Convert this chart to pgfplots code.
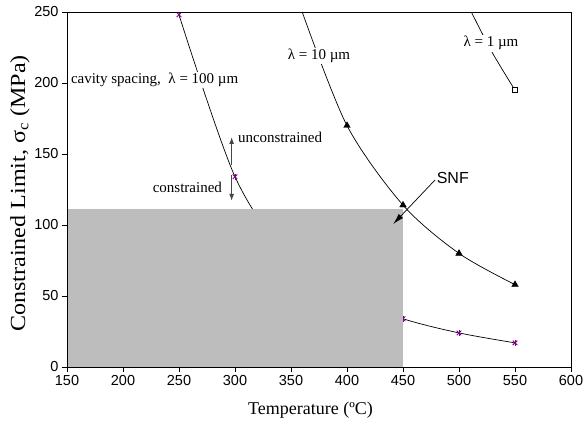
\documentclass[border=0pt]{standalone}
\usepackage{fontspec}
\setmainfont{Liberation Serif}
\newfontfamily\arialf{Liberation Sans}
\usepackage{graphicx}
\usepackage{pgfplots}
\pgfplotsset{compat=1.18}
\usetikzlibrary{arrows.meta,calc}
\definecolor{boxgray}{RGB}{189,189,189}
\definecolor{mpurple}{RGB}{128,0,128}
\begin{document}
\begin{tikzpicture}
\begin{axis}[
  width=504pt, height=355pt, scale only axis,
  xmin=150, xmax=600, ymin=0, ymax=250,
  xtick={150,200,...,600}, ytick={0,50,...,250},
  tick pos=left, tick align=outside, major tick length=5pt,
  tick style={black, line width=0.8pt},
  axis line style={black, line width=0.9pt},
  axis on top=true,
  /pgf/number format/assume math mode=true,
  ticklabel style={font=\arialf\fontsize{14.5}{16}\selectfont},
  xlabel={Temperature (ºC)},
  xlabel style={font=\fontsize{18}{20}\selectfont, at={(axis description cs:0.483,-0.121)}, anchor=center},
  ylabel={\scalebox{1.12}[1]{Constrained Limit, σ\textsubscript{c} (MPa)}},
  ylabel style={font=\fontsize{21.5}{24}\selectfont, at={(axis description cs:-0.0933,0.489)}, anchor=center},
  clip mode=individual,
]
% lambda = 100 um
\addplot[black, line width=0.7pt, smooth, no marks] coordinates {(250,248)(300,134)(350,75)(400,50)(450,34)(500,24)(550,17)};
\addplot[only marks, mpurple, mark=x, mark size=3.2pt, mark options={line width=0.9pt}] coordinates {(250,248)(300,134)(450,34)(500,24)(550,17)};
\addplot[only marks, mpurple, mark=|, mark size=3.2pt, mark options={line width=0.9pt}] coordinates {(250,248)(300,134)(450,34)(500,24)(550,17)};
% SNF region
\addplot[draw=none, fill=boxgray] coordinates {(150,111)(450,111)} \closedcycle;
% lambda = 10 um
\addplot[black, line width=0.7pt, smooth, no marks] coordinates {(360,250)(400,170)(450,114)(500,80)(550,58)};
\addplot[only marks, black, mark=triangle*, mark size=3.8pt] coordinates {(400,170)(450,114)(500,80)(550,58)};
% lambda = 1 um
\addplot[black, line width=0.7pt, smooth, no marks] coordinates {(511,250)(530,221)(550,195)};
\addplot[only marks, black, mark=square*, mark size=2.5pt, mark options={fill=white, line width=0.6pt}] coordinates {(550,195)};

\node[fill=white, inner sep=1pt, anchor=west, font=\fontsize{15}{17}\selectfont] at (axis cs:152.5,202) {cavity spacing,\ \ λ = 100 µm};
\node[fill=white, inner sep=1.5pt, font=\fontsize{15}{17}\selectfont] at (axis cs:375,219) {λ = 10 µm};
\node[fill=white, inner sep=1.5pt, font=\fontsize{15}{17}\selectfont] at (axis cs:528.5,228) {λ = 1 µm};
\node[anchor=west, inner sep=0pt, font=\fontsize{15}{17}\selectfont] at (axis cs:302.5,162) {unconstrained};
\node[anchor=east, inner sep=0pt, font=\fontsize{15}{17}\selectfont] at (axis cs:288.5,126.5) {constrained};
\draw[-{Latex[length=7pt,width=5pt]}, gray!55!black, line width=1.1pt] (axis cs:297,142) -- (axis cs:297,162);
\draw[-{Latex[length=7pt,width=5pt]}, gray!55!black, line width=1.1pt] (axis cs:297,135) -- (axis cs:297,117);
\node[anchor=west, inner sep=0pt, font=\arialf\fontsize{16}{18}\selectfont] at (axis cs:480,133) {SNF};
\draw[-{Latex[length=11pt,width=6pt]}, black, line width=0.7pt] (axis cs:478.6,131.7) -- (axis cs:441.3,100.7);
\end{axis}
\pgfresetboundingbox
\path[use as bounding box] ($(current axis.south west)+(-67pt,-58pt)$) rectangle ($(current axis.north east)+(16pt,12pt)$);
\end{tikzpicture}
\end{document}
